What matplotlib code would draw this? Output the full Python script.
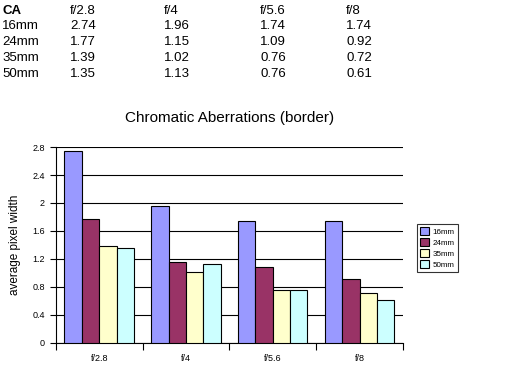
import numpy as np
import matplotlib
matplotlib.use("Agg")
import matplotlib.pyplot as plt

plt.rcParams["font.family"] = ["Liberation Sans", "DejaVu Sans"]

apertures = ["f/2.8", "f/4", "f/5.6", "f/8"]
lenses = ["16mm", "24mm", "35mm", "50mm"]
ca_16 = [2.74, 1.96, 1.74, 1.74]
ca_24 = [1.77, 1.15, 1.09, 0.92]
ca_35 = [1.39, 1.02, 0.76, 0.72]
ca_50 = [1.35, 1.13, 0.76, 0.61]
series = [ca_16, ca_24, ca_35, ca_50]
colors = ["#9999FF", "#993366", "#FFFFCC", "#CCFFFF"]
yticks = [0, 0.4, 0.8, 1.2, 1.6, 2, 2.4, 2.8]

fig = plt.figure(figsize=(5.12, 3.76), dpi=100)

# data table at the top
col_x = [0.004, 0.137, 0.32, 0.508, 0.676]
row_y = [0.972, 0.930, 0.888, 0.846, 0.804]
fig.text(col_x[0], row_y[0], "CA", fontsize=9.5, fontweight="bold", va="center")
for j, ap in enumerate(apertures):
    fig.text(col_x[j + 1], row_y[0], ap, fontsize=9.5, va="center")
for i, lens in enumerate(lenses):
    fig.text(col_x[0], row_y[i + 1], lens, fontsize=9.5, va="center")
    for j in range(len(apertures)):
        fig.text(col_x[j + 1], row_y[i + 1], f"{series[i][j]:.2f}", fontsize=9.5, va="center")

ax = fig.add_axes([0.109, 0.088, 0.678, 0.521])
x = np.arange(len(apertures))
w = 0.2
for k, (vals, c, lab) in enumerate(zip(series, colors, lenses)):
    ax.bar(x + (k - 1.5) * w, vals, w, color=c, edgecolor="black", linewidth=0.8,
           label=lab, zorder=3)

ax.set_xlim(-0.5, len(apertures) - 0.5)
ax.set_ylim(0, 2.8)
ax.set_yticks(yticks)
ax.set_yticklabels([f"{t:g}" for t in yticks], fontsize=6.5)
ax.yaxis.grid(True, color="black", linewidth=0.8, zorder=0)
ax.set_xticks(np.arange(len(apertures) + 1) - 0.5)
ax.set_xticklabels([])
ax.set_xticks(x, minor=True)
ax.set_xticklabels(apertures, minor=True, fontsize=6.5)
ax.tick_params(axis="x", which="minor", length=0, pad=8)
ax.tick_params(axis="x", which="major", length=5, direction="out", color="black")
ax.tick_params(axis="y", length=4, direction="out", pad=4)
for s in ["top", "right"]:
    ax.spines[s].set_visible(False)
ax.spines["left"].set_linewidth(0.8)
ax.spines["bottom"].set_linewidth(0.8)
ax.set_ylabel("average pixel width", fontsize=8.5, labelpad=8)
ax.set_title("Chromatic Aberrations (border)", fontsize=11, pad=18)

leg = fig.legend(loc="upper left", bbox_to_anchor=(0.806, 0.415), fontsize=5.8,
                 frameon=True, fancybox=False, edgecolor="black", borderpad=0.4,
                 handlelength=1.1, handleheight=1.1, handletextpad=0.5,
                 labelspacing=0.3)
leg.get_frame().set_linewidth(0.8)

fig.savefig("out.png", dpi=100, facecolor="white")
